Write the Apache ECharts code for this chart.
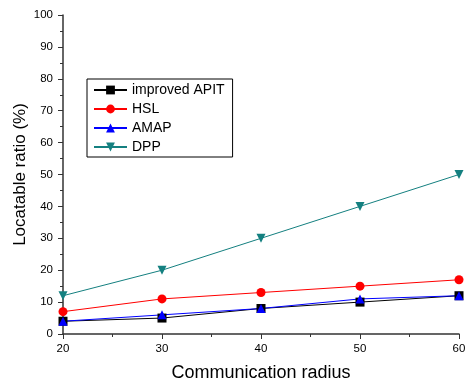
<!DOCTYPE html>
<html><head><meta charset="utf-8">
<script src="https://cdn.jsdelivr.net/npm/echarts@6/dist/echarts.min.js"></script>
<style>html,body{margin:0;padding:0;background:#fff}#c{width:469px;height:383px}</style>
</head><body><div id="c"></div>
<script>
const radius = [20, 30, 40, 50, 60];
const apit = [4, 5, 8, 10, 12];
const hsl = [7, 11, 13, 15, 17];
const amap = [4, 6, 8, 11, 12];
const dpp = [12, 20, 30, 40, 50];
const names = ['improved APIT', 'HSL', 'AMAP', 'DPP'];

const font = 'Liberation Sans, Arial, sans-serif';
function pts(v) { return radius.map((x, i) => [x, v[i]]); }
function ser(name, data, color, symbol, rot) {
  return {
    name, type: 'line', data: pts(data), symbol, symbolSize: 9, symbolRotate: rot || 0,
    itemStyle: { color }, lineStyle: { color, width: 1 }, z: 3
  };
}
const chart = echarts.init(document.getElementById('c'));
chart.setOption({
  animation: false,
  backgroundColor: '#fff',
  grid: { left: 63, right: 10, top: 15, bottom: 49, containLabel: false, outerBoundsMode: 'none' },
  legend: {
    orient: 'vertical', left: 87, top: 79, data: names,
    borderColor: '#000', borderWidth: 1, padding: [4, 8, 3, 6],
    itemWidth: 33, itemHeight: 11, itemGap: 5,
    textStyle: { fontFamily: font, fontSize: 14, lineHeight: 14, color: '#000' }
  },
  xAxis: {
    type: 'value', min: 20, max: 60, interval: 10,
    name: 'Communication radius', nameLocation: 'middle', nameGap: 30,
    nameTextStyle: { fontFamily: font, fontSize: 18, color: '#000' },
    axisLine: { lineStyle: { color: '#333', width: 1.5 } },
    axisTick: { show: true, inside: false, length: 5, lineStyle: { color: '#333' } },
    minorTick: { show: true, splitNumber: 2, length: 3, lineStyle: { color: '#333' } },
    splitLine: { show: false },
    axisLabel: { fontFamily: font, fontSize: 11.5, color: '#000', margin: 9 }
  },
  yAxis: {
    type: 'value', min: 0, max: 100, interval: 10,
    name: 'Locatable ratio (%)', nameLocation: 'middle', nameGap: 34, nameMoveOverlap: false,
    nameTextStyle: { fontFamily: font, fontSize: 17, color: '#000' },
    axisLine: { show: true, lineStyle: { color: '#333', width: 1.5 } },
    axisTick: { show: true, inside: false, length: 5, lineStyle: { color: '#333' } },
    minorTick: { show: true, splitNumber: 2, length: 3, lineStyle: { color: '#333' } },
    splitLine: { show: false },
    axisLabel: { fontFamily: font, fontSize: 11.5, color: '#000', margin: 10 }
  },
  series: [
    ser(names[0], apit, '#000000', 'rect'),
    ser(names[1], hsl, '#ff0000', 'circle'),
    ser(names[2], amap, '#0000ff', 'triangle'),
    ser(names[3], dpp, '#148080', 'triangle', 180)
  ]
});
</script></body></html>
